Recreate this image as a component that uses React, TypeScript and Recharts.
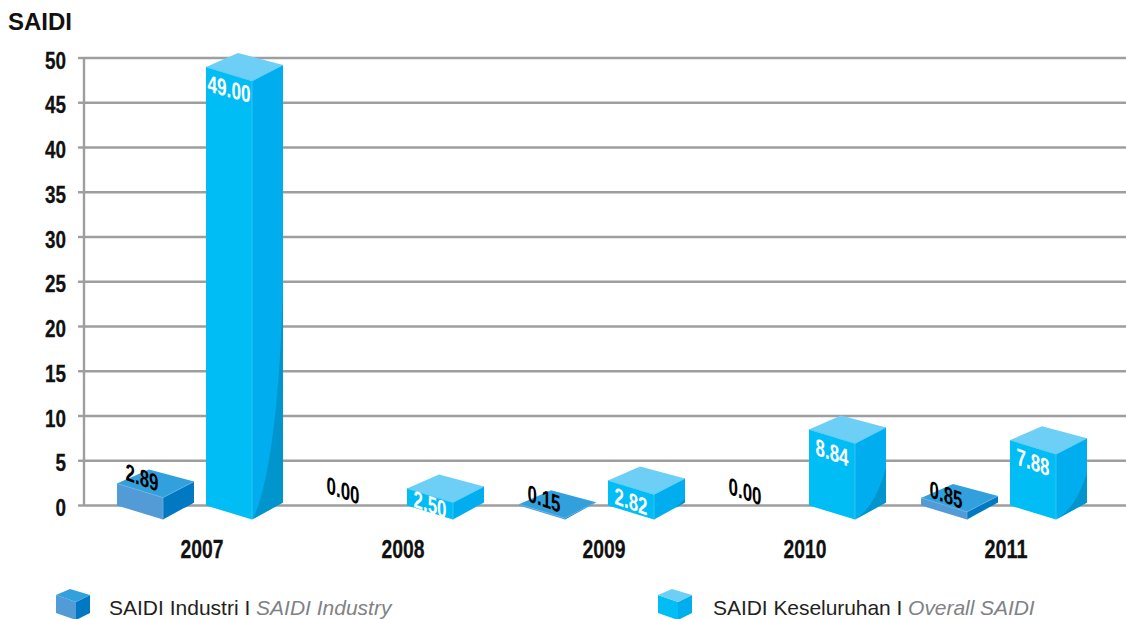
import { Bar, BarChart, CartesianGrid, LabelList, Legend, XAxis, YAxis } from 'recharts';

const years = ['2007', '2008', '2009', '2010', '2011'];
// printed on the chart
const industryLabels = ['2.89', '0.00', '0.15', '0.00', '0.85'];
const overallLabels = ['49.00', '2.50', '2.82', '8.84', '7.88'];
// bar heights as measured against the axis
const industryValues = [2.45, 0, 0.15, 0, 0.85];
const overallValues = [49, 1.9, 2.8, 8.5, 7.3];
const yTicks = [0, 5, 10, 15, 20, 25, 30, 35, 40, 45, 50];

const industryLabelDy = [-6, -15, -5.5, -14, -3];
const overallLabelDy = [22, 16, 21, 23, 22];

const data = years.map((year, i) => ({
  year,
  industry: industryValues[i],
  overall: overallValues[i],
}));

const SANS = '"Liberation Sans", sans-serif';
const GRID = '#9e9ea1';

const industryColors = { front: '#529bd6', top: '#31a0dc', side: '#0079c2', shade: '#0079c2', edge: '#6fb2e4' };
const overallColors = { front: '#00bdf6', top: '#6dcff6', side: '#00aeef', shade: '#0095cd', edge: '#45c8f3' };

type Colors = typeof overallColors;

function boxShape(colors: Colors) {
  return function Box(props: any) {
    const { x, y, height } = props;
    if (!(height > 0.3)) return null;
    const base = y + height;
    const front = `${x},${y} ${x + 46},${y + 14} ${x + 46},${base + 14} ${x},${base}`;
    const side = `${x + 46},${y + 14} ${x + 77},${y - 2} ${x + 77},${base - 3} ${x + 46},${base + 14}`;
    const top = `${x},${y} ${x + 32},${y - 14} ${x + 77},${y - 2} ${x + 46},${y + 14}`;
    let shade = '';
    if (height > 40) {
      const start = base - height * 0.5;
      const bend = height > 200 ? 72 : 66;
      shade = `M${x + 77},${start} Q${x + bend},${start + (base + 13.5 - start) * 0.76} ${x + 47},${base + 13.5} L${x + 77},${base - 3} Z`;
    } else if (height > 20) {
      shade = `M${x + 77},${base - 7} L${x + 67},${base + 2.8} L${x + 77},${base - 3} Z`;
    }
    return (
      <g>
        <polygon points={front} fill={colors.front} />
        <polygon points={side} fill={colors.side} />
        <polygon points={top} fill={colors.top} />
        {shade && <path d={shade} fill={colors.shade} />}
        <polyline
          points={`${x},${y} ${x + 46},${y + 14} ${x + 77},${y - 2}`}
          fill="none"
          stroke={colors.edge}
          strokeWidth={0.7}
        />
        <line x1={x + 46} y1={y + 14} x2={x + 46} y2={base + 14} stroke={colors.edge} strokeWidth={0.8} />
      </g>
    );
  };
}

function valueLabel(labels: string[], dys: number[], fill: string, dx: number) {
  return function ValueLabel(props: any) {
    const { x, y, index } = props;
    const cx = x + dx;
    const cy = y + dys[index];
    const text = labels[index];
    return (
      <text
        x={0}
        y={0}
        textAnchor="middle"
        dominantBaseline="central"
        transform={`translate(${cx} ${cy}) skewY(${text.length === 5 ? 15 : 20})`}
        fontFamily={SANS}
        fontWeight="bold"
        fontSize={24}
        fill={fill}
        textLength={text.length === 5 ? 43 : 33}
        lengthAdjust="spacingAndGlyphs"
      >
        {text}
      </text>
    );
  };
}

function YearTick(props: any) {
  const { x, y, payload } = props;
  return (
    <text
      x={x + 2.5}
      y={y + 35}
      textAnchor="middle"
      dominantBaseline="central"
      fontFamily={SANS}
      fontWeight="bold"
      fontSize={26}
      fill="#111"
      stroke="#111"
      strokeWidth={0.3}
      textLength={43}
      lengthAdjust="spacingAndGlyphs"
    >
      {payload.value}
    </text>
  );
}

function ValueTick(props: any) {
  const { x, y, payload } = props;
  const text = String(payload.value);
  return (
    <text
      x={x}
      y={y + 2}
      textAnchor="end"
      dominantBaseline="central"
      fontFamily={SANS}
      fontWeight="bold"
      fontSize={24}
      fill="#111"
      stroke="#111"
      strokeWidth={0.3}
      textLength={text.length * 10.5}
      lengthAdjust="spacingAndGlyphs"
    >
      {text}
    </text>
  );
}

function Cube({ colors }: { colors: Colors }) {
  return (
    <svg width={35} height={32} style={{ display: 'block' }}>
      <polygon points="0,6 20,13 20,31 0,24" fill={colors.front} />
      <polygon points="20,13 34,6 34,24 20,31" fill={colors.side} />
      <polygon points="0,6 14,0 34,6 20,13" fill={colors.top} />
    </svg>
  );
}

function LegendRow() {
  const textStyle = { fontFamily: SANS, fontSize: 21, color: '#231f20', whiteSpace: 'nowrap' as const };
  const italic = { fontStyle: 'italic', color: '#808285' };
  return (
    <div style={{ position: 'relative', width: 1126, height: 30 }}>
      <div style={{ position: 'absolute', left: 56, top: 0 }}><Cube colors={industryColors} /></div>
      <div style={{ position: 'absolute', left: 109, top: 7, ...textStyle }}>
        SAIDI Industri I <span style={italic}>SAIDI Industry</span>
      </div>
      <div style={{ position: 'absolute', left: 658, top: 0 }}><Cube colors={overallColors} /></div>
      <div style={{ position: 'absolute', left: 713, top: 7, letterSpacing: -0.05, ...textStyle }}>
        SAIDI Keseluruhan I <span style={italic}>Overall SAIDI</span>
      </div>
    </div>
  );
}

export default function App() {
  return (
    <div style={{ position: 'absolute', left: 0, top: 0, width: 1126, height: 619, background: '#fff' }}>
      <div style={{ position: 'absolute', left: 8, top: 8, fontFamily: SANS, fontWeight: 'bold', fontSize: 24, color: '#111' }}>
        SAIDI
      </div>
      <BarChart
        width={1126}
        height={619}
        data={data}
        margin={{ top: 58, right: 0, bottom: 0, left: 0 }}
        barSize={77}
        barGap={12}
      >
        <CartesianGrid vertical={false} stroke={GRID} strokeWidth={2.4} />
        <XAxis
          dataKey="year"
          axisLine={false}
          tickLine={false}
          height={113.5}
          interval={0}
          padding={{ left: 15, right: 22 }}
          tick={<YearTick />}
        />
        <YAxis
          domain={[0, 50]}
          ticks={yTicks}
          width={84}
          interval={0}
          axisLine={{ stroke: GRID, strokeWidth: 2.4 }}
          tickLine={{ stroke: GRID, strokeWidth: 2.4 }}
          tickSize={6}
          tickMargin={12}
          tick={<ValueTick />}
        />
        <Legend
          content={<LegendRow />}
          layout="horizontal"
          align="center"
          verticalAlign="middle"
          wrapperStyle={{ position: 'absolute', left: 0, top: 589, width: 1126 }}
        />
        <Bar dataKey="industry" isAnimationActive={false} shape={boxShape(industryColors)}>
          <LabelList dataKey="industry" content={valueLabel(industryLabels, industryLabelDy, '#000', 25)} />
        </Bar>
        <Bar dataKey="overall" isAnimationActive={false} shape={boxShape(overallColors)}>
          <LabelList dataKey="overall" content={valueLabel(overallLabels, overallLabelDy, '#fff', 23)} />
        </Bar>
      </BarChart>
    </div>
  );
}
